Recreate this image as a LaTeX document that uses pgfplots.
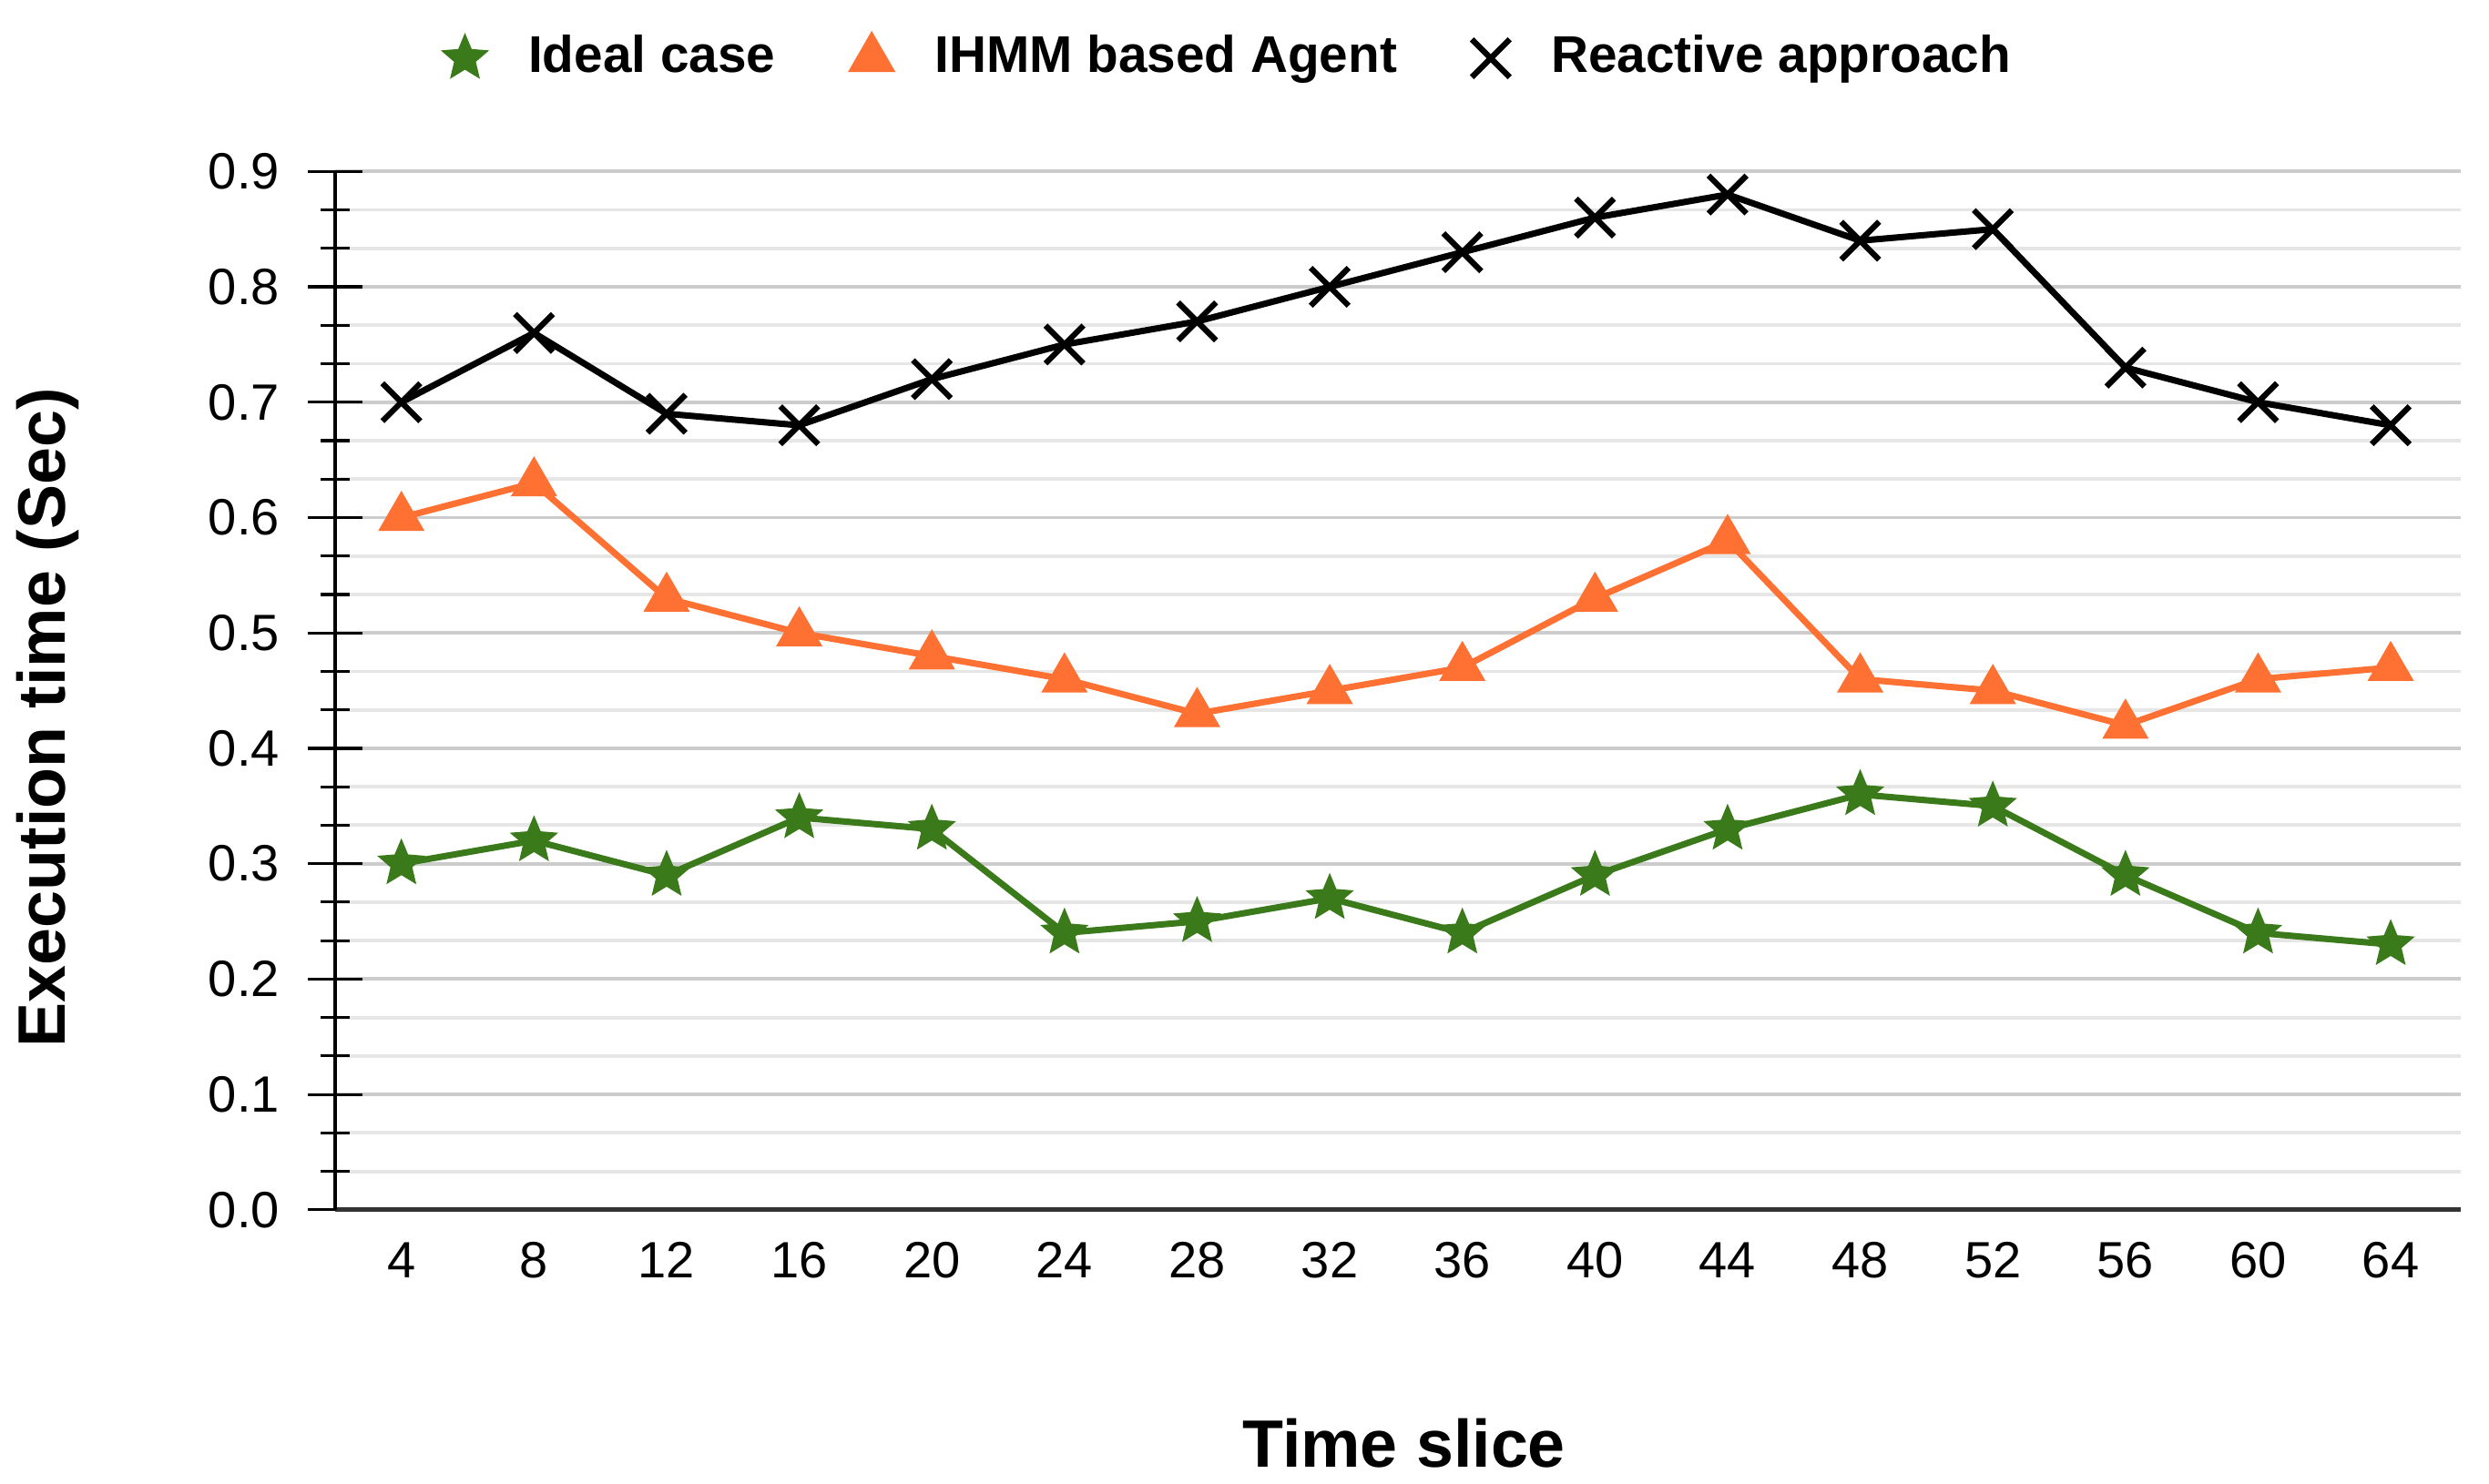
\documentclass[border=0pt]{standalone}
\usepackage{fontspec}
\setmainfont{Liberation Sans}
\usepackage{pgfplots}
\pgfplotsset{compat=1.18}
\definecolor{cgreen}{RGB}{58,122,26}
\definecolor{corange}{RGB}{255,112,51}
\definecolor{gmaj}{RGB}{204,204,204}
\definecolor{gmin}{RGB}{230,230,230}
\definecolor{xax}{RGB}{51,51,51}
\pgfdeclareplotmark{fstar}{%
  \pgfpathmoveto{\pgfqpointpolar{90}{\pgfplotmarksize}}%
  \pgfpathlineto{\pgfqpointpolar{126}{0.45\pgfplotmarksize}}%
  \pgfpathlineto{\pgfqpointpolar{162}{\pgfplotmarksize}}%
  \pgfpathlineto{\pgfqpointpolar{198}{0.45\pgfplotmarksize}}%
  \pgfpathlineto{\pgfqpointpolar{234}{\pgfplotmarksize}}%
  \pgfpathlineto{\pgfqpointpolar{270}{0.45\pgfplotmarksize}}%
  \pgfpathlineto{\pgfqpointpolar{306}{\pgfplotmarksize}}%
  \pgfpathlineto{\pgfqpointpolar{342}{0.45\pgfplotmarksize}}%
  \pgfpathlineto{\pgfqpointpolar{18}{\pgfplotmarksize}}%
  \pgfpathlineto{\pgfqpointpolar{54}{0.45\pgfplotmarksize}}%
  \pgfpathclose
  \pgfusepathqfillstroke
}
\begin{document}
\begin{tikzpicture}
\begin{axis}[
  scale only axis,
  width=333pt, height=162.75pt,
  xmin=2, xmax=66.1, ymin=0, ymax=0.9,
  axis x line=bottom, axis y line=left,
  x axis line style={-, draw=xax, line width=0.7pt},
  y axis line style={-, draw=black, line width=0.6pt},
  xtick={4,8,...,64},
  xtick style={draw=none},
  ytick={0,0.1,...,0.9},
  minor y tick num=2,
  tick align=center,
  major tick length=8.6pt,
  minor tick length=4.6pt,
  ytick style={black, line width=0.45pt},
  ymajorgrids, yminorgrids,
  major grid style={draw=gmaj, line width=0.55pt},
  minor grid style={draw=gmin, line width=0.55pt},
  /pgf/number format/assume math mode=true,
  yticklabel={\pgfmathprintnumber[fixed,fixed zerofill,precision=1]{\tick}},
  ticklabel style={font=\fontsize{8}{9.5}\selectfont},
  yticklabel style={anchor=east, inner sep=0pt, xshift=-4.2pt},
  xticklabel style={anchor=north, inner sep=0pt, yshift=-0.6pt},
  xlabel={Time slice},
  ylabel={Execution time (Sec)},
  every axis x label/.style={at={(axis description cs:0.503,0)}, anchor=center, yshift=-36.6pt, font=\fontsize{10.5}{12}\selectfont\bfseries},
  every axis y label/.style={at={(axis description cs:-0.1351,0.474)}, anchor=center, rotate=90, font=\fontsize{10.5}{12}\selectfont\bfseries},
  legend columns=3,
  legend style={at={(0.4227,1.109)}, anchor=center, draw=none, fill=none,
    font=\fontsize{8.1}{10}\selectfont\bfseries,
    /tikz/every odd column/.append style={column sep=4.5pt},
    /tikz/every even column/.append style={column sep=9.7pt}},
  legend cell align=left,
  clip=false,
]
\addlegendimage{only marks, mark=fstar, mark size=3.6pt, color=cgreen, mark options={fill=cgreen, line width=0.3pt}}
\addlegendentry{Ideal case}
\addlegendimage{only marks, mark=triangle*, mark size=3.9pt, color=corange, mark options={fill=corange}}
\addlegendentry{IHMM based Agent}
\addlegendimage{only marks, mark=x, mark size=4.2pt, color=black, mark options={line width=0.9pt}}
\addlegendentry{Reactive approach}

\addplot[forget plot, color=black, line width=1pt, mark=x, mark size=4.2pt, mark options={line width=0.9pt}] coordinates {
(4,0.70) (8,0.76) (12,0.69) (16,0.68) (20,0.72) (24,0.75) (28,0.77) (32,0.80)
(36,0.83) (40,0.86) (44,0.88) (48,0.84) (52,0.85) (56,0.73) (60,0.70) (64,0.68)};
\addplot[forget plot, color=corange, line width=1pt, mark=triangle*, mark size=3.9pt, mark options={fill=corange, line width=0.3pt}] coordinates {
(4,0.60) (8,0.63) (12,0.53) (16,0.50) (20,0.48) (24,0.46) (28,0.43) (32,0.45)
(36,0.47) (40,0.53) (44,0.58) (48,0.46) (52,0.45) (56,0.42) (60,0.46) (64,0.47)};
\addplot[forget plot, color=cgreen, line width=1pt, mark=fstar, mark size=3.6pt, mark options={fill=cgreen, line width=0.3pt}] coordinates {
(4,0.30) (8,0.32) (12,0.29) (16,0.34) (20,0.33) (24,0.24) (28,0.25) (32,0.27)
(36,0.24) (40,0.29) (44,0.33) (48,0.36) (52,0.35) (56,0.29) (60,0.24) (64,0.23)};
\end{axis}
\pgfresetboundingbox
\path[use as bounding box] (-52.5pt,-42.875pt) rectangle (337.5pt,189.625pt);
\end{tikzpicture}
\end{document}
